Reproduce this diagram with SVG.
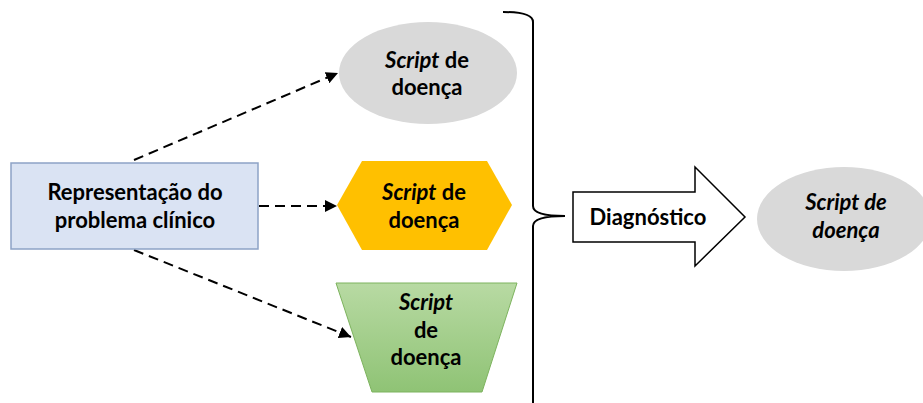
<svg xmlns="http://www.w3.org/2000/svg" width="923" height="403" viewBox="0 0 923 403">
<style>
text{font-family:Lato,"Open Sans","Liberation Sans",sans-serif;font-weight:bold;font-size:22px;fill:#000;text-anchor:middle}
.i{font-style:italic}
.dash{fill:none;stroke:#000;stroke-width:2;stroke-dasharray:10 6}
</style>
<defs>
<marker id="ah" viewBox="0 0 10 10" refX="10" refY="5" markerWidth="6" markerHeight="6" orient="auto" markerUnits="strokeWidth">
<path d="M0,0 L10,5 L0,10 z" fill="#000"/>
</marker>
<linearGradient id="g" x1="0" y1="0" x2="0" y2="1">
<stop offset="0" stop-color="#b8daa3"/>
<stop offset="1" stop-color="#8fc375"/>
</linearGradient>
</defs>
<rect width="923" height="403" fill="#fff"/>
<g id="connectors">
<line class="dash" x1="134" y1="160" x2="338" y2="73" marker-end="url(#ah)"/>
<line class="dash" x1="259" y1="206" x2="337" y2="206" marker-end="url(#ah)"/>
<line class="dash" x1="134" y1="250" x2="351" y2="337" marker-end="url(#ah)"/>
</g>
<g id="problema">
<rect x="11" y="163" width="247" height="86" fill="#dae3f3" stroke="#8da3c6" stroke-width="1.5"/>
<text x="135" y="200">Representação do</text>
<text x="135" y="228">problema clínico</text>
</g>
<g id="script-elipse">
<ellipse cx="428" cy="73" rx="89" ry="51" fill="#d9d9d9"/>
<text x="427" y="68"><tspan class="i">Script</tspan> de</text>
<text x="427" y="95">doença</text>
</g>
<g id="script-hexagono">
<polygon points="337,205 362,161 487,161 512,205 487,250 362,250" fill="#ffc000"/>
<text x="424" y="200"><tspan class="i">Script</tspan> de</text>
<text x="424" y="228">doença</text>
</g>
<g id="script-trapezio">
<polygon points="336,283 517,283 482,392 372,392" fill="url(#g)" stroke="#7db35e" stroke-width="1"/>
<text x="426" y="310" class="i">Script</text>
<text x="426" y="338">de</text>
<text x="426" y="365">doença</text>
</g>
<g id="chave">
<path d="M503,12 Q533,12 533,22 L533,206 Q533,216 565,216 Q533,216 533,226 L533,405" fill="none" stroke="#000" stroke-width="2"/>
</g>
<g id="diagnostico">
<polygon points="573,192 695,192 695,167 745,217 695,266 695,242 573,242" fill="#fff" stroke="#000" stroke-width="1.5"/>
<text x="648" y="225">Diagnóstico</text>
</g>
<g id="script-final">
<ellipse cx="844" cy="219" rx="87" ry="52" fill="#d9d9d9"/>
<text x="846" y="210" class="i">Script de</text>
<text x="846" y="238" class="i">doença</text>
</g>
</svg>
